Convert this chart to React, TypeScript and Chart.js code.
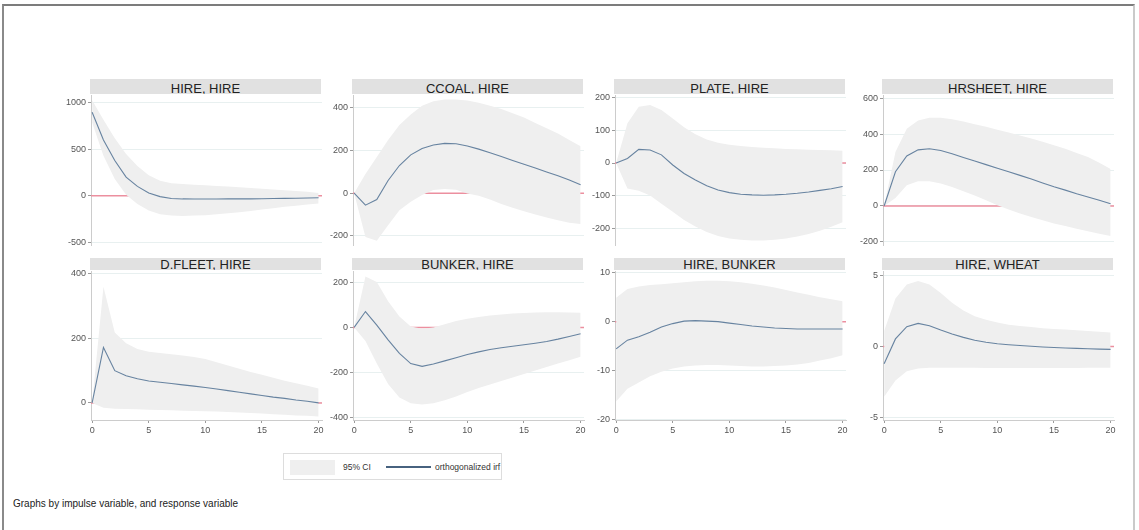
import React, { useEffect, useRef } from "react";
import { Chart, registerables } from "chart.js";

Chart.register(...registerables);

// ---------- data ----------
const STEPS = [0, 1, 2, 3, 4, 5, 6, 7, 8, 9, 10, 11, 12, 13, 14, 15, 16, 17, 18, 19, 20];
const X_TICKS = [0, 5, 10, 15, 20];

const TITLES = [
  "HIRE, HIRE",
  "CCOAL, HIRE",
  "PLATE, HIRE",
  "HRSHEET, HIRE",
  "D.FLEET, HIRE",
  "BUNKER, HIRE",
  "HIRE, BUNKER",
  "HIRE, WHEAT",
];

// HIRE -> HIRE
const irfHireHire = [900, 600, 380, 200, 100, 30, -10, -30, -35, -36, -36, -36, -35, -35, -34, -33, -31, -29, -27, -25, -22];
const hiHireHire = [1030, 820, 620, 450, 320, 220, 160, 135, 125, 118, 112, 105, 98, 90, 82, 74, 66, 58, 50, 42, 30];
const loHireHire = [790, 430, 180, 10, -90, -160, -200, -215, -218, -215, -210, -200, -190, -178, -165, -150, -135, -120, -108, -96, -85];

// CCOAL -> HIRE
const irfCcoal = [0, -56, -30, 60, 130, 180, 210, 226, 234, 232, 222, 207, 190, 172, 154, 136, 118, 100, 82, 62, 40];
const hiCcoal = [0, 90, 170, 250, 320, 370, 410, 432, 440, 440, 435, 425, 410, 395, 375, 355, 330, 305, 280, 250, 220];
const loCcoal = [0, -205, -223, -150, -80, -40, -8, 15, 20, 16, -1, -12, -30, -50, -68, -85, -100, -114, -127, -138, -145];

// PLATE -> HIRE
const irfPlate = [0, 14, 42, 40, 25, -6, -32, -52, -70, -83, -91, -96, -98, -99, -98, -96, -93, -89, -84, -79, -72];
const hiPlate = [0, 122, 173, 178, 163, 137, 110, 88, 72, 62, 56, 52, 49, 47, 45, 43, 42, 41, 40, 39, 38];
const loPlate = [0, -78, -85, -100, -125, -150, -175, -195, -212, -224, -232, -236, -238, -238, -236, -232, -226, -218, -208, -196, -182];

// HRSHEET -> HIRE
const irfHrsheet = [0, 190, 278, 312, 318, 308, 290, 270, 250, 230, 210, 190, 170, 150, 128, 107, 88, 68, 50, 32, 12];
const hiHrsheet = [0, 300, 430, 475, 490, 490, 482, 470, 455, 440, 424, 408, 392, 375, 357, 338, 318, 295, 272, 240, 205];
const loHrsheet = [0, 45, 115, 138, 138, 125, 105, 82, 58, 32, 4, -20, -42, -62, -80, -97, -112, -126, -140, -154, -167];

// D.FLEET -> HIRE
const irfFleet = [0, 172, 100, 84, 75, 68, 64, 60, 56, 52, 48, 43, 38, 33, 28, 23, 18, 14, 9, 5, 0];
const hiFleet = [0, 360, 218, 185, 167, 159, 155, 151, 147, 142, 136, 126, 116, 106, 96, 87, 78, 69, 61, 53, 45];
const loFleet = [0, -15, -18, -19, -20, -21, -22, -23, -24, -25, -26, -27, -28, -30, -31, -33, -35, -37, -39, -40, -42];

// BUNKER -> HIRE
const irfBunker = [0, 70, 10, -55, -115, -160, -172, -162, -148, -134, -120, -108, -98, -90, -83, -77, -70, -62, -52, -40, -28];
const hiBunker = [0, 225, 200, 115, 48, 4, -6, 0, 14, 28, 38, 46, 52, 57, 61, 64, 66, 67, 67, 66, 65];
const loBunker = [0, -60, -160, -250, -310, -335, -340, -335, -322, -305, -285, -268, -252, -237, -221, -206, -190, -175, -160, -145, -130];

// HIRE -> BUNKER
const irfHireBunker = [-5.6, -3.8, -3.1, -2.2, -1.1, -0.4, 0.1, 0.2, 0.1, 0, -0.3, -0.6, -0.9, -1.1, -1.3, -1.4, -1.5, -1.5, -1.5, -1.5, -1.5];
const hiHireBunker = [4.9, 6.7, 7.2, 7.5, 7.7, 7.9, 8.1, 8.3, 8.4, 8.4, 8.3, 8.1, 7.8, 7.4, 7.0, 6.5, 6.0, 5.5, 5.0, 4.6, 4.2];
const loHireBunker = [-16.4, -13.8, -12.5, -11.2, -10.3, -9.6, -9.2, -9.0, -8.9, -8.9, -9.0, -9.1, -9.2, -9.2, -9.1, -9.0, -8.8, -8.5, -8.0, -7.5, -6.9];

// HIRE -> WHEAT
const irfHireWheat = [-1.22, 0.54, 1.41, 1.64, 1.48, 1.17, 0.89, 0.65, 0.45, 0.3, 0.2, 0.13, 0.07, 0.02, -0.03, -0.07, -0.1, -0.13, -0.16, -0.18, -0.2];
const hiHireWheat = [1.1, 3.4, 4.4, 4.65, 4.4, 3.8, 3.1, 2.55, 2.15, 1.9, 1.7, 1.55, 1.45, 1.38, 1.3, 1.25, 1.2, 1.15, 1.1, 1.05, 1.0];
const loHireWheat = [-3.55, -2.4, -1.75, -1.55, -1.5, -1.5, -1.5, -1.5, -1.5, -1.52, -1.52, -1.52, -1.52, -1.52, -1.52, -1.52, -1.52, -1.52, -1.5, -1.5, -1.5];

const IRF = [irfHireHire, irfCcoal, irfPlate, irfHrsheet, irfFleet, irfBunker, irfHireBunker, irfHireWheat];
const UPPER = [hiHireHire, hiCcoal, hiPlate, hiHrsheet, hiFleet, hiBunker, hiHireBunker, hiHireWheat];
const LOWER = [loHireHire, loCcoal, loPlate, loHrsheet, loFleet, loBunker, loHireBunker, loHireWheat];

const Y_TICKS = [
  [-500, 0, 500, 1000],
  [-200, 0, 200, 400],
  [-200, -100, 0, 100, 200],
  [-200, 0, 200, 400, 600],
  [0, 200, 400],
  [-400, -200, 0, 200],
  [-20, -10, 0, 10],
  [-5, 0, 5],
];
const Y_MIN = [-532, -243, -252, -217, -53, -409, -20.2, -5.2];
const Y_MAX = [1086, 461, 209, 617, 409, 249, 10.4, 5.35];
const X_MIN = -0.1;
const X_MAX = 20.3;

// ---------- layout ----------
const FONT = "'Liberation Sans', Arial, Helvetica, sans-serif";
const COL_LEFT = [91, 353, 615, 883];
const AREA_W = 231;
const ROW_TOP = [95, 271];
const ROW_H = [150, 149];
const AXIS_W = 40;
const PAD = 8;
const XAXIS_H = 20;

const zeroLinePlugin = {
  id: "zeroLine",
  beforeDatasetsDraw(chart: any) {
    const { ctx, chartArea, scales } = chart;
    const y = scales.y.getPixelForValue(0);
    ctx.save();
    ctx.strokeStyle = "#ec8f9f";
    ctx.lineWidth = 1.5;
    ctx.beginPath();
    ctx.moveTo(chartArea.left, y);
    ctx.lineTo(chartArea.right, y);
    ctx.stroke();
    ctx.restore();
  },
};

function Panel({ idx }: { idx: number }) {
  const ref = useRef<HTMLCanvasElement>(null);
  const row = idx < 4 ? 0 : 1;
  const col = idx % 4;
  const isBottom = row === 1;
  const width = AXIS_W + AREA_W + PAD;
  const height = PAD + ROW_H[row] + (isBottom ? XAXIS_H : PAD);

  useEffect(() => {
    if (!ref.current) return;
    const toPts = (arr: number[]) => STEPS.map((s, i) => ({ x: s, y: arr[i] }));
    const tickFont = { family: FONT, size: 9 };
    const chart = new Chart(ref.current, {
      type: "line",
      data: {
        datasets: [
          {
            label: "orthogonalized irf",
            data: toPts(IRF[idx]),
            borderColor: "#6783a0",
            borderWidth: 1.1,
            pointRadius: 0,
            tension: 0,
            fill: false,
            order: 0,
          },
          {
            label: "95% CI upper",
            data: toPts(UPPER[idx]),
            borderColor: "rgba(0,0,0,0)",
            borderWidth: 0,
            backgroundColor: "#efefef",
            pointRadius: 0,
            tension: 0,
            fill: "+1",
            order: 1,
          },
          {
            label: "95% CI lower",
            data: toPts(LOWER[idx]),
            borderColor: "rgba(0,0,0,0)",
            borderWidth: 0,
            pointRadius: 0,
            tension: 0,
            fill: false,
            order: 1,
          },
        ],
      },
      options: {
        animation: false,
        responsive: false,
        maintainAspectRatio: false,
        layout: { padding: { top: PAD, right: PAD, bottom: isBottom ? 0 : PAD, left: 0 } },
        plugins: {
          legend: { display: false },
          tooltip: { enabled: false },
          title: { display: false },
        },
        scales: {
          x: {
            type: "linear",
            min: X_MIN,
            max: X_MAX,
            display: isBottom,
            afterBuildTicks: (s: any) => {
              s.ticks = X_TICKS.map((v) => ({ value: v }));
            },
            afterFit: (s: any) => {
              s.height = isBottom ? XAXIS_H : 0;
            },
            grid: {
              drawOnChartArea: false,
              drawTicks: true,
              tickLength: 3,
              tickColor: "#9a9a9a",
              color: "#dddddd",
            },
            border: { display: true, color: "#cccccc", width: 1 },
            ticks: {
              font: tickFont,
              color: "#555555",
              padding: 2,
              maxRotation: 0,
              autoSkip: false,
              callback: (v: any) => String(v),
            },
          },
          y: {
            type: "linear",
            min: Y_MIN[idx],
            max: Y_MAX[idx],
            afterBuildTicks: (s: any) => {
              s.ticks = Y_TICKS[idx].map((v) => ({ value: v }));
            },
            afterFit: (s: any) => {
              s.width = AXIS_W;
            },
            grid: {
              color: "#e8f0f0",
              lineWidth: 1,
              tickLength: 3,
              tickColor: "#9a9a9a",
            },
            border: { display: true, color: "#cccccc", width: 1 },
            ticks: {
              font: tickFont,
              color: "#555555",
              padding: 2,
              autoSkip: false,
              callback: (v: any) => String(v),
            },
          },
        },
      } as any,
      plugins: [zeroLinePlugin],
    });
    return () => chart.destroy();
  }, [idx]);

  const areaLeft = COL_LEFT[col];
  const areaTop = ROW_TOP[row];
  const barTop = row === 0 ? 79 : 258;
  const barH = row === 0 ? 15 : 12;

  return (
    <>
      <div
        style={{
          position: "absolute",
          left: areaLeft - 1,
          top: barTop,
          width: AREA_W,
          height: barH,
          background: "#e1e1e1",
          overflow: "hidden",
          textAlign: "center",
          fontFamily: FONT,
          fontSize: 13,
          lineHeight: row === 0 ? "15px" : "13px",
          color: "#222",
          paddingTop: row === 0 ? 2 : 0,
          boxSizing: "border-box",
          whiteSpace: "nowrap",
        }}
      >
        {TITLES[idx]}
      </div>
      <canvas
        ref={ref}
        width={width}
        height={height}
        style={{
          position: "absolute",
          left: areaLeft - AXIS_W,
          top: areaTop - PAD,
          width,
          height,
        }}
      />
    </>
  );
}

export default function App() {
  return (
    <div
      style={{
        position: "absolute",
        left: 0,
        top: 0,
        width: 1139,
        height: 530,
        background: "#ffffff",
        overflow: "hidden",
      }}
    >
      <div
        style={{
          position: "absolute",
          left: 2,
          top: 4,
          width: 1133,
          height: 540,
          borderTop: "2px solid #7c7c7c",
          borderLeft: "2px solid #8a8a8a",
          borderRight: "2px solid #cacaca",
          boxSizing: "border-box",
        }}
      />
      {[0, 1, 2, 3, 4, 5, 6, 7].map((i) => (
        <Panel key={i} idx={i} />
      ))}
      {/* legend */}
      <div
        style={{
          position: "absolute",
          left: 283,
          top: 453,
          width: 219,
          height: 27,
          border: "1px solid #dddddd",
          boxSizing: "border-box",
          fontFamily: FONT,
          fontSize: 8.5,
          color: "#333",
        }}
      >
        <div style={{ position: "absolute", left: 6, top: 6, width: 45, height: 15, background: "#efefef" }} />
        <div style={{ position: "absolute", left: 59, top: 8, lineHeight: "11px", whiteSpace: "nowrap" }}>95% CI</div>
        <div style={{ position: "absolute", left: 102, top: 12, width: 45, height: 2, background: "#47627f" }} />
        <div style={{ position: "absolute", left: 151, top: 8, lineHeight: "11px", whiteSpace: "nowrap" }}>
          orthogonalized irf
        </div>
      </div>
      <div
        style={{
          position: "absolute",
          left: 13,
          top: 497,
          fontFamily: FONT,
          fontSize: 10,
          lineHeight: "14px",
          color: "#222",
          whiteSpace: "nowrap",
        }}
      >
        Graphs by impulse variable, and response variable
      </div>
    </div>
  );
}
